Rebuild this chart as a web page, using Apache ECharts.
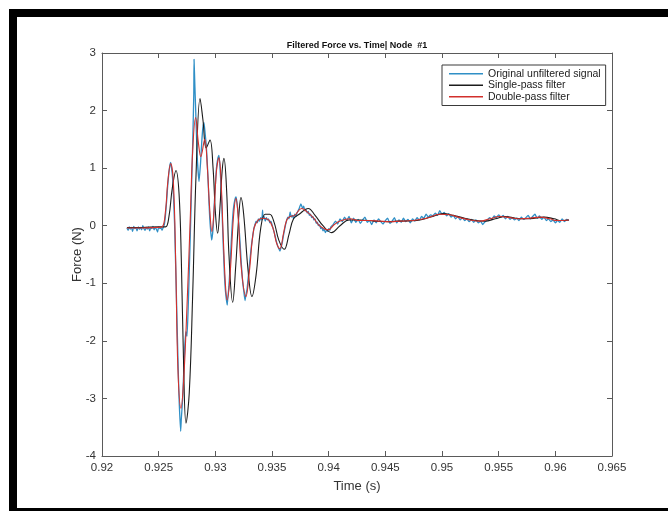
<!DOCTYPE html>
<html>
<head>
<meta charset="utf-8">
<script src="https://cdn.jsdelivr.net/npm/echarts@6/dist/echarts.min.js"></script>
<style>
  html, body { margin: 0; padding: 0; background: #ffffff; }
  #chart { width: 668px; height: 511px; }
</style>
</head>
<body>
<div id="chart"></div>
<script>
// Axis ticks
const xTicks = [0.92, 0.925, 0.93, 0.935, 0.94, 0.945, 0.95, 0.955, 0.96, 0.965];
const yTicks = [-4, -3, -2, -1, 0, 1, 2, 3];

// Raw force record [time s, force N]
const original = [
  [0.9222,-0.04],[0.9223,-0.08],[0.9224,-0.02],[0.9225,-0.06],[0.9226,-0.03],[0.9227,-0.10],[0.9228,-0.01],
  [0.9229,-0.05],[0.9230,-0.04],[0.9231,-0.09],[0.9232,-0.02],[0.9233,-0.06],[0.9234,-0.03],[0.9235,-0.07],
  [0.9236,0.00],[0.9237,-0.05],[0.9238,-0.08],[0.9239,-0.03],[0.9240,-0.06],[0.9241,-0.02],[0.9242,-0.09],
  [0.9243,-0.04],[0.9244,-0.05],[0.9245,-0.01],[0.9246,-0.07],[0.9247,-0.03],[0.9248,-0.06],[0.9249,-0.11],
  [0.9250,-0.02],[0.9251,-0.05],[0.9252,-0.04],[0.9253,-0.08],[0.9254,-0.03],
  [0.9255,0.02],[0.9256,0.18],[0.9257,0.42],[0.9258,0.70],[0.9259,0.92],[0.9260,1.06],[0.92606,1.10],
  [0.9261,1.05],[0.9262,0.90],[0.9263,0.55],[0.9264,0.05],[0.9265,-0.70],[0.9266,-1.50],[0.9267,-2.30],
  [0.9268,-3.00],[0.92694,-3.57],[0.9270,-3.35],[0.9271,-3.05],[0.9272,-2.60],[0.9273,-2.10],[0.92735,-1.95],
  [0.92741,-1.84],[0.9275,-1.92],[0.9276,-1.45],[0.9277,-0.80],[0.9278,-0.10],[0.9279,0.65],[0.9280,1.40],
  [0.9281,2.30],[0.92812,2.89],[0.9282,2.40],[0.9283,1.80],[0.9284,1.20],[0.92856,0.77],[0.9287,1.10],
  [0.9288,1.45],[0.9289,1.70],[0.92900,1.79],[0.9291,1.60],[0.9292,1.40],[0.9293,1.05],[0.9294,0.60],
  [0.9295,0.15],[0.92967,-0.25],[0.9298,-0.05],[0.9299,0.35],[0.9300,0.70],[0.9301,1.00],[0.9302,1.15],
  [0.93032,1.22],[0.9304,1.05],[0.9305,0.70],[0.9306,0.20],[0.9307,-0.35],[0.9308,-0.85],[0.9309,-1.15],
  [0.93105,-1.38],[0.9311,-1.25],[0.9312,-1.05],[0.9313,-0.70],[0.9314,-0.30],[0.9315,0.05],[0.9316,0.30],
  [0.93172,0.45],[0.93182,0.50],[0.9319,0.42],[0.9320,0.22],[0.9321,-0.05],[0.9322,-0.35],[0.9323,-0.68],
  [0.9324,-0.95],[0.9325,-1.12],[0.93262,-1.30],[0.9327,-1.20],[0.9328,-1.10],[0.9329,-0.90],[0.9330,-0.70],
  [0.9331,-0.50],[0.9332,-0.32],[0.9333,-0.18],[0.9334,-0.05],[0.9335,0.02],[0.9336,0.08],[0.9337,0.05],
  [0.9338,0.12],[0.9339,0.08],[0.9340,0.14],[0.9341,0.10],[0.93417,0.27],[0.9342,0.12],[0.9343,0.16],
  [0.9344,0.08],[0.9345,0.14],[0.9346,0.10],[0.9347,0.12],[0.9348,0.05],[0.9349,0.08],[0.9350,0.02],
  [0.9351,-0.05],[0.9352,-0.12],[0.9353,-0.20],[0.9354,-0.28],[0.9355,-0.35],[0.9356,-0.40],[0.9357,-0.44],
  [0.9358,-0.38],[0.9359,-0.30],[0.9360,-0.18],[0.9361,-0.08],[0.9362,0.02],[0.9363,0.10],[0.9364,0.15],
  [0.9365,0.12],[0.9366,0.24],[0.9367,0.15],[0.9368,0.18],[0.9369,0.12],[0.9370,0.20],[0.9371,0.16],
  [0.9372,0.22],[0.9373,0.26],[0.9374,0.30],[0.93755,0.38],[0.9377,0.30],[0.9378,0.34],[0.9379,0.26],
  [0.9380,0.28],[0.9381,0.22],[0.9382,0.25],[0.9383,0.18],[0.9384,0.20],[0.9385,0.14],[0.9386,0.16],
  [0.9387,0.10],[0.9388,0.12],[0.9389,0.04],[0.9390,0.06],[0.9391,0.00],[0.9392,0.02],[0.9393,-0.05],
  [0.9394,-0.03],[0.9395,-0.09],[0.9396,-0.06],[0.9397,-0.12],[0.9398,-0.08],[0.9399,-0.10],[0.9400,-0.05],
  [0.9401,-0.08],[0.9402,-0.02],
  [0.9404,0.02],[0.9406,0.08],[0.9408,0.03],[0.9410,0.12],[0.9412,0.07],[0.9414,0.15],[0.9416,0.09],
  [0.9418,0.16],[0.9420,0.05],[0.9422,0.13],[0.9424,0.06],[0.9426,0.11],[0.9428,0.04],[0.9430,0.10],
  [0.9432,0.15],[0.9434,0.06],[0.9436,0.09],[0.9438,0.02],[0.9440,0.10],[0.9442,0.05],[0.9444,0.12],
  [0.9446,0.07],[0.9448,0.03],[0.9450,0.09],[0.9452,0.13],[0.9454,0.04],[0.9456,0.08],[0.9458,0.14],
  [0.9460,0.05],[0.9462,0.10],[0.9464,0.06],[0.9466,0.13],[0.9468,0.07],[0.9470,0.11],[0.9472,0.05],
  [0.9474,0.12],[0.9476,0.08],[0.9478,0.14],[0.9480,0.10],[0.9482,0.16],[0.9484,0.13],[0.9486,0.20],
  [0.9488,0.15],[0.9490,0.19],[0.9492,0.17],[0.9494,0.22],[0.9496,0.18],[0.9498,0.26],[0.9500,0.20],
  [0.9502,0.23],[0.9504,0.17],[0.9506,0.21],[0.9508,0.15],[0.9510,0.18],[0.9512,0.12],[0.9514,0.16],
  [0.9516,0.10],[0.9518,0.14],[0.9520,0.09],[0.9522,0.12],[0.9524,0.07],[0.9526,0.11],[0.9528,0.06],
  [0.9530,0.10],[0.9532,0.05],[0.9534,0.08],[0.9536,0.02],[0.9538,0.07],[0.9540,0.10],[0.9542,0.14],
  [0.9544,0.11],[0.9546,0.17],[0.9548,0.14],[0.9550,0.19],[0.9552,0.15],[0.9554,0.18],[0.9556,0.12],
  [0.9558,0.16],[0.9560,0.11],[0.9562,0.14],[0.9564,0.10],[0.9566,0.13],[0.9568,0.09],[0.9570,0.15],
  [0.9572,0.11],[0.9574,0.14],[0.9576,0.18],[0.9578,0.12],[0.9580,0.16],[0.9582,0.20],[0.9584,0.13],
  [0.9586,0.17],[0.9588,0.11],[0.9590,0.15],[0.9592,0.09],[0.9594,0.12],[0.9596,0.07],[0.9598,0.10],
  [0.9600,0.05],[0.9602,0.09],[0.9604,0.06],[0.9606,0.12],[0.9608,0.07],[0.9610,0.11],[0.9612,0.09]
];

// Causal (single-pass) filter output, lags the raw record
const singlePass = [
  [0.9222,-0.03],[0.9235,-0.03],[0.9250,-0.02],[0.9256,-0.02],[0.9259,0.15],[0.9262,0.65],[0.92653,0.96],
  [0.9268,0.55],[0.9270,-0.6],[0.9272,-2.4],[0.92741,-3.43],[0.9277,-2.9],[0.9280,-1.2],[0.9283,0.9],
  [0.92865,2.21],[0.9289,1.85],[0.9292,1.35],[0.92953,1.49],[0.9298,1.0],[0.9300,0.25],[0.9302,-0.13],
  [0.9304,0.3],[0.9306,0.95],[0.93076,1.17],[0.9310,0.6],[0.9312,-0.5],[0.93153,-1.33],[0.9318,-0.7],
  [0.9321,0.25],[0.93226,0.49],[0.9325,0.2],[0.9329,-0.8],[0.93323,-1.23],[0.9336,-0.85],[0.9340,-0.05],
  [0.9344,0.20],[0.9348,0.20],[0.9352,0.05],[0.9356,-0.25],[0.93608,-0.41],[0.9365,-0.15],[0.9369,0.12],
  [0.9374,0.20],[0.9382,0.30],[0.9388,0.18],[0.9395,0.0],[0.94026,-0.12],[0.9410,0.0],[0.9418,0.10],
  [0.9428,0.10],[0.9440,0.08],[0.9452,0.07],[0.9463,0.08],[0.9478,0.09],[0.9490,0.15],[0.9501,0.21],
  [0.9510,0.18],[0.9520,0.13],[0.9530,0.09],[0.9538,0.08],[0.9547,0.12],[0.9556,0.16],[0.9565,0.13],
  [0.9574,0.12],[0.9582,0.13],[0.9590,0.15],[0.9599,0.12],[0.9605,0.09],[0.9612,0.10]
];

// Zero-phase (double-pass) filter output
const doublePass = [
  [0.9222,-0.04],[0.9235,-0.04],[0.9248,-0.03],[0.9253,-0.02],[0.9256,0.25],[0.9258,0.75],[0.92606,1.08],
  [0.9263,0.75],[0.9265,-0.6],[0.9267,-2.5],[0.92697,-3.17],[0.9272,-2.7],[0.9275,-1.4],[0.9278,0.2],
  [0.9280,1.3],[0.92826,1.88],[0.9285,1.45],[0.92872,1.20],[0.92906,1.50],[0.9293,1.0],[0.9295,0.3],
  [0.9297,-0.10],[0.9299,0.3],[0.9301,0.95],[0.93032,1.18],[0.9305,0.8],[0.9307,-0.2],[0.9309,-1.05],
  [0.93105,-1.29],[0.9313,-0.85],[0.9316,0.15],[0.93182,0.47],[0.9320,0.2],[0.9323,-0.75],[0.9327,-1.23],
  [0.9330,-0.80],[0.9334,-0.05],[0.9338,0.10],[0.9342,0.13],[0.9347,0.10],[0.9351,-0.05],[0.9354,-0.30],
  [0.9357,-0.40],[0.9360,-0.15],[0.9363,0.10],[0.9366,0.16],[0.9370,0.18],[0.93761,0.30],[0.9381,0.24],
  [0.93864,0.14],[0.9392,0.0],[0.93996,-0.07],[0.9405,0.02],[0.9410,0.08],[0.94187,0.12],[0.94275,0.09],
  [0.94364,0.09],[0.94452,0.08],[0.9454,0.07],[0.94628,0.08],[0.94746,0.09],[0.94864,0.13],[0.94981,0.20],
  [0.95069,0.19],[0.95158,0.14],[0.95246,0.10],[0.95334,0.08],[0.95422,0.12],[0.9551,0.16],[0.95599,0.14],
  [0.95687,0.12],[0.95775,0.13],[0.95864,0.15],[0.95952,0.12],[0.96011,0.09],[0.9612,0.10]
];

const seriesNames = ['Original unfiltered signal', 'Single-pass filter', 'Double-pass filter'];
const seriesColors = ['#2f8fc6', '#1c1c1c', '#d2302c'];

const FONT = "'Liberation Sans', Arial, sans-serif";
const axisGray = '#5a5a5a';
const labelGray = '#333333';

const xMin = xTicks[0], xMax = xTicks[xTicks.length - 1];
const yMin = yTicks[0], yMax = yTicks[yTicks.length - 1];

function fmtX(v) { return String(+v.toFixed(3)); }

const frameAxisX = (pos, labels) => ({
  type: 'value', position: pos, min: xMin, max: xMax, interval: 0.005,
  axisLine: { show: true, onZero: false, lineStyle: { color: axisGray, width: 1 } },
  axisTick: { show: true, inside: true, length: 5, lineStyle: { color: axisGray } },
  axisLabel: { show: labels, color: labelGray, fontFamily: FONT, fontSize: 11.5, margin: 6, formatter: fmtX },
  splitLine: { show: false }
});
const frameAxisY = (pos, labels) => ({
  type: 'value', position: pos, min: yMin, max: yMax, interval: 1,
  axisLine: { show: true, onZero: false, lineStyle: { color: axisGray, width: 1 } },
  axisTick: { show: true, inside: true, length: 5, lineStyle: { color: axisGray } },
  axisLabel: { show: labels, color: labelGray, fontFamily: FONT, fontSize: 11.5, margin: 6 },
  splitLine: { show: false }
});

const xMain = frameAxisX('bottom', true);
xMain.name = 'Time (s)';
xMain.nameLocation = 'middle';
xMain.nameGap = 24;
xMain.nameMoveOverlap = false;
xMain.nameTextStyle = { color: labelGray, fontFamily: FONT, fontSize: 13 };

const yMain = frameAxisY('left', true);
yMain.name = 'Force (N)';
yMain.nameLocation = 'middle';
yMain.nameGap = 18;
yMain.nameMoveOverlap = false;
yMain.nameTextStyle = { color: labelGray, fontFamily: FONT, fontSize: 13 };

const chart = echarts.init(document.getElementById('chart'), null, { renderer: 'canvas' });

chart.setOption({
  animation: false,
  backgroundColor: '#ffffff',
  title: {
    text: 'Filtered Force vs. Time| Node  #1',
    left: 357, top: 41, padding: 0, textAlign: 'center',
    textStyle: { fontFamily: FONT, fontSize: 9, fontWeight: 'bold', color: '#111' }
  },
  grid: { left: 102, right: 56, top: 53, bottom: 55, containLabel: false },
  xAxis: [xMain, frameAxisX('top', false)],
  yAxis: [yMain, frameAxisY('right', false)],
  legend: {
    orient: 'vertical', left: 442, top: 65,
    backgroundColor: '#ffffff', borderColor: '#3a3a3a', borderWidth: 1,
    padding: [3, 5, 3, 7], itemGap: 0, itemWidth: 34, itemHeight: 1.5,
    icon: 'rect',
    textStyle: { fontFamily: FONT, fontSize: 10.5, color: '#222', lineHeight: 11.5 },
    data: seriesNames
  },
  series: [
    { name: seriesNames[0], type: 'line', data: original, showSymbol: false, symbol: 'none',
      smooth: 0.15, lineStyle: { color: seriesColors[0], width: 1.3 }, itemStyle: { color: seriesColors[0] } },
    { name: seriesNames[1], type: 'line', data: singlePass, showSymbol: false, symbol: 'none',
      smooth: 0.4, lineStyle: { color: seriesColors[1], width: 1.1 }, itemStyle: { color: seriesColors[1] } },
    { name: seriesNames[2], type: 'line', data: doublePass, showSymbol: false, symbol: 'none',
      smooth: 0.4, lineStyle: { color: seriesColors[2], width: 1.1 }, itemStyle: { color: seriesColors[2] } }
  ],
  graphic: [
    // black frame around the figure
    { type: 'rect', shape: { x: 9, y: 9, width: 659, height: 8 }, style: { fill: '#000' }, silent: true },
    { type: 'rect', shape: { x: 9, y: 9, width: 8, height: 502 }, style: { fill: '#000' }, silent: true },
    { type: 'rect', shape: { x: 9, y: 508, width: 659, height: 3 }, style: { fill: '#000' }, silent: true }
  ]
});
</script>
</body>
</html>
